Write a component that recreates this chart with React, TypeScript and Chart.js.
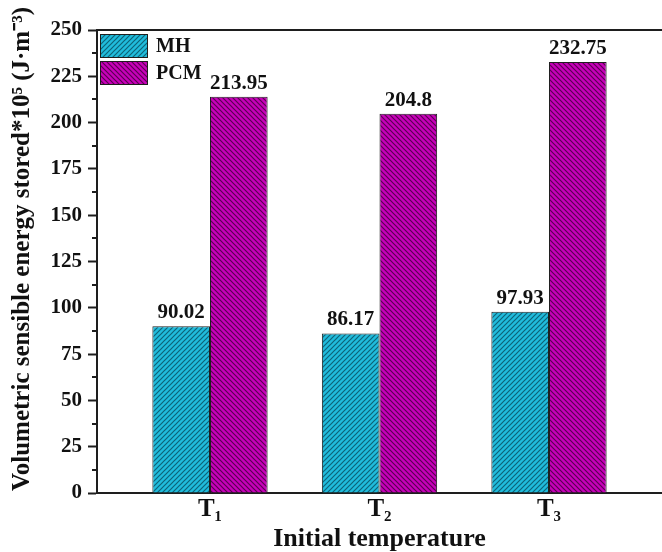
import React, { useEffect, useRef } from 'react';
import { Chart, registerables } from 'chart.js';

Chart.register(...registerables);

// ---- Data ----
const categories = ['T₁', 'T₂', 'T₃'];
const categoryPositions = [1, 2, 3];
const seriesNames = ['MH', 'PCM'];
const mhValues = [90.02, 86.17, 97.93];
const pcmValues = [213.95, 204.8, 232.75];
const yTickValues = [0, 25, 50, 75, 100, 125, 150, 175, 200, 225, 250];

const FONT = "'Liberation Serif', 'Times New Roman', serif";
const AXIS_COLOR = '#1e1e1e';

function makeHatch(bg: string, line: string, dir: '/' | '\\') {
  const size = 5;
  const c = document.createElement('canvas');
  c.width = size;
  c.height = size;
  const ctx = c.getContext('2d')!;
  ctx.fillStyle = bg;
  ctx.fillRect(0, 0, size, size);
  ctx.strokeStyle = line;
  ctx.lineWidth = 1.2;
  ctx.beginPath();
  if (dir === '/') {
    ctx.moveTo(-1, size + 1); ctx.lineTo(size + 1, -1);
    ctx.moveTo(-1, 1); ctx.lineTo(1, -1);
    ctx.moveTo(size - 1, size + 1); ctx.lineTo(size + 1, size - 1);
  } else {
    ctx.moveTo(-1, -1); ctx.lineTo(size + 1, size + 1);
    ctx.moveTo(size - 1, -1); ctx.lineTo(size + 1, 1);
    ctx.moveTo(-1, size - 1); ctx.lineTo(1, size + 1);
  }
  ctx.stroke();
  return ctx.createPattern(c, 'repeat') as CanvasPattern;
}

export default function App() {
  const ref = useRef<HTMLCanvasElement>(null);

  useEffect(() => {
    const canvas = ref.current!;
    const mhFill = makeHatch('#20bcdc', '#0d6378', '/');
    const pcmFill = makeHatch('#c800ba', '#5a0052', '\\');
    const fills = [mhFill, pcmFill];

    const framePlugin = {
      id: 'frameAndExtras',
      afterDraw(chart: any) {
        const { ctx, chartArea } = chart;
        const yScale = chart.scales.y;
        ctx.save();
        // top frame line
        ctx.strokeStyle = AXIS_COLOR;
        ctx.lineWidth = 2;
        ctx.beginPath();
        ctx.moveTo(chartArea.left - 1, chartArea.top);
        ctx.lineTo(chartArea.right, chartArea.top);
        ctx.stroke();
        // minor ticks
        for (let i = 0; i < yTickValues.length - 1; i++) {
          const v = (yTickValues[i] + yTickValues[i + 1]) / 2;
          const py = Math.round(yScale.getPixelForValue(v));
          ctx.beginPath();
          ctx.moveTo(chartArea.left - 5, py);
          ctx.lineTo(chartArea.left, py);
          ctx.stroke();
        }
        // legend
        const lx = chartArea.left + 3;
        let ly = chartArea.top + 4;
        ctx.font = `bold 20px ${FONT}`;
        ctx.textBaseline = 'middle';
        ctx.textAlign = 'left';
        seriesNames.forEach((name, i) => {
          ctx.fillStyle = fills[i];
          ctx.fillRect(lx, ly, 48, 24);
          ctx.lineWidth = 1;
          ctx.strokeStyle = AXIS_COLOR;
          ctx.strokeRect(lx + 0.5, ly + 0.5, 47, 23);
          ctx.fillStyle = '#111';
          ctx.fillText(name, lx + 56, ly + 13);
          ly += 27;
        });
        ctx.restore();
      },
      afterDatasetsDraw(chart: any) {
        const { ctx } = chart;
        ctx.save();
        ctx.font = `bold 21px ${FONT}`;
        ctx.fillStyle = '#111';
        ctx.textAlign = 'center';
        ctx.textBaseline = 'alphabetic';
        chart.data.datasets.forEach((ds: any, di: number) => {
          const meta = chart.getDatasetMeta(di);
          meta.data.forEach((bar: any, i: number) => {
            ctx.fillText(String(ds.data[i].y), bar.x, bar.y - 8);
          });
        });
        ctx.restore();
      },
    };

    const chart = new Chart(canvas, {
      type: 'bar',
      data: {
        datasets: [
          {
            label: seriesNames[0],
            data: categoryPositions.map((x, i) => ({ x, y: mhValues[i] })),
            backgroundColor: mhFill,
            borderColor: '#202020',
            borderWidth: 1,
          },
          {
            label: seriesNames[1],
            data: categoryPositions.map((x, i) => ({ x, y: pcmValues[i] })),
            backgroundColor: pcmFill,
            borderColor: '#202020',
            borderWidth: 1,
          },
        ],
      },
      options: {
        animation: false,
        responsive: true,
        maintainAspectRatio: false,
        layout: { padding: { top: 30, right: 0, bottom: 0, left: 0 } },
        datasets: { bar: { categoryPercentage: 0.68, barPercentage: 1.0 } },
        plugins: { legend: { display: false }, tooltip: { enabled: false } },
        scales: {
          x: {
            type: 'linear',
            min: 1 / 3,
            max: 11 / 3,
            offset: false,
            afterBuildTicks: (scale: any) => {
              scale.ticks = categoryPositions.map((v) => ({ value: v }));
            },
            afterFit: (scale: any) => {
              scale.height = 59;
            },
            ticks: {
              callback: (v: any) => categories[categoryPositions.indexOf(Number(v))] ?? '',
              font: { family: FONT, size: 25, weight: 'bold' },
              color: '#111',
              padding: 2,
              maxRotation: 0,
            },
            grid: { display: false, drawTicks: false },
            border: { display: true, color: AXIS_COLOR, width: 2 },
            title: {
              display: true,
              text: 'Initial temperature',
              font: { family: FONT, size: 26, weight: 'bold', lineHeight: 1 },
              color: '#111',
              padding: { top: 0, bottom: 0 },
            },
          },
          y: {
            min: 0,
            max: 250,
            afterBuildTicks: (scale: any) => {
              scale.ticks = yTickValues.map((v) => ({ value: v }));
            },
            afterFit: (scale: any) => {
              scale.width = 97;
            },
            ticks: {
              font: { family: FONT, size: 21, weight: 'bold' },
              color: '#111',
              padding: 6,
            },
            grid: {
              drawOnChartArea: false,
              drawTicks: true,
              tickLength: 9,
              tickWidth: 2,
              tickColor: AXIS_COLOR,
            },
            border: { display: true, color: AXIS_COLOR, width: 2 },
            title: {
              display: true,
              text: '    Volumetric sensible energy stored*10⁵ (J·m⁻³)',
              font: { family: FONT, size: 25, weight: 'bold', lineHeight: 1 },
              color: '#111',
              padding: { top: 10, bottom: 0 },
            },
          },
        },
      },
      plugins: [framePlugin],
    } as any);

    return () => chart.destroy();
  }, []);

  return (
    <div style={{ position: 'fixed', left: 0, top: 0, width: 662, height: 552 }}>
      <canvas ref={ref} />
    </div>
  );
}
